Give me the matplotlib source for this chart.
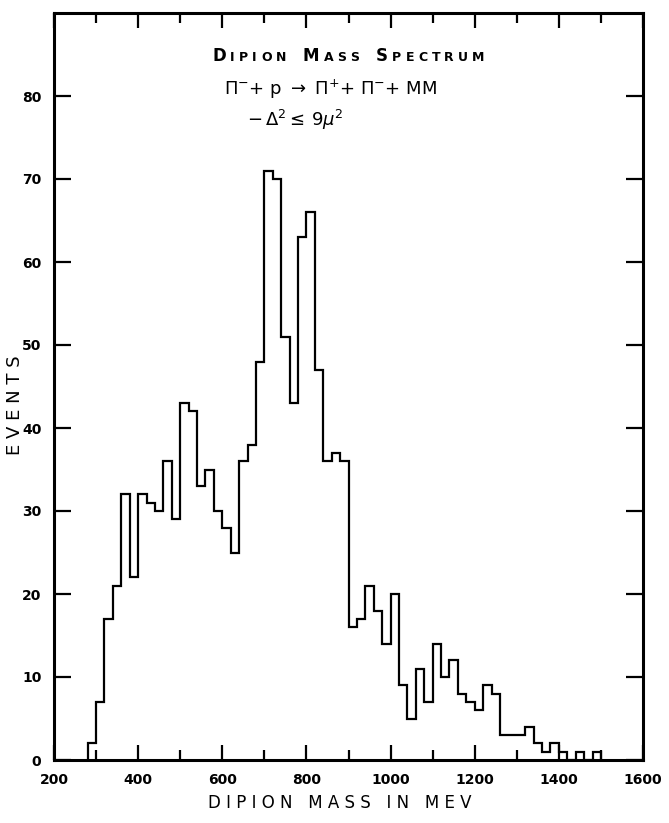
import numpy as np
import matplotlib
matplotlib.use("Agg")
import matplotlib.pyplot as plt
from matplotlib.ticker import MultipleLocator
from matplotlib.offsetbox import TextArea, HPacker, AnnotationBbox

# dipion invariant mass, 20 MeV bins from 280 to 1500 MeV
bin_edges = np.arange(280, 1520, 20)
events = [
    2, 7, 17, 21, 32, 22, 32, 31, 30, 36,
    29, 43, 42, 33, 35, 30, 28, 25, 36, 38,
    48, 71, 70, 51, 43, 63, 66, 47, 36, 37,
    36, 16, 17, 21, 18, 14, 20, 9, 5, 11,
    7, 14, 10, 12, 8, 7, 6, 9, 8, 3,
    3, 3, 4, 2, 1, 2, 1, 0, 1, 0,
    1,
]

x_ticks = [200, 400, 600, 800, 1000, 1200, 1400, 1600]
y_ticks = [0, 10, 20, 30, 40, 50, 60, 70, 80]

plt.rcParams['font.family'] = ['DejaVu Sans']
plt.rcParams['mathtext.fontset'] = 'dejavusans'

W, H = 669, 823
fig = plt.figure(figsize=(W / 100, H / 100), dpi=100)
ax = fig.add_axes([54 / W, 63 / H, 589 / W, 747 / H])

ax.stairs(events, bin_edges, color='black', linewidth=1.6)

ax.set_xlim(200, 1600)
ax.set_ylim(0, 90)
ax.set_xticks(x_ticks)
ax.set_yticks(y_ticks)
ax.xaxis.set_minor_locator(MultipleLocator(100))

for side in ['left', 'right', 'top', 'bottom']:
    ax.spines[side].set_linewidth(2.2)

ax.tick_params(axis='both', which='both', direction='in', top=True, right=True,
               width=1.6, colors='black')
ax.tick_params(axis='x', which='major', length=11, pad=9)
ax.tick_params(axis='x', which='minor', length=7)
ax.tick_params(axis='y', which='major', length=12, pad=9)
for lab in ax.get_xticklabels() + ax.get_yticklabels():
    lab.set_fontsize(10)
    lab.set_fontweight('bold')


def small_caps(words, big=12, small=9, letter_sep=3, word_sep=12):
    boxes = []
    for w in words:
        letters = [TextArea(w[0], textprops=dict(fontsize=big, fontweight='bold'))]
        for ch in w[1:]:
            letters.append(TextArea(ch, textprops=dict(fontsize=small, fontweight='bold')))
        boxes.append(HPacker(children=letters, align='baseline', pad=0, sep=letter_sep))
    return HPacker(children=boxes, align='baseline', pad=0, sep=word_sep)


title = small_caps(['DIPION', 'MASS', 'SPECTRUM'])
ax.add_artist(AnnotationBbox(title, (0.50, 0.942), xycoords='axes fraction',
                             frameon=False, box_alignment=(0.5, 0.5)))

ax.text(0.47, 0.898, r'$\Pi^{-}$+ p $\rightarrow$ $\Pi^{+}$+ $\Pi^{-}$+ MM',
        transform=ax.transAxes, ha='center', va='center', fontsize=13)
ax.text(0.41, 0.857, r'$-\,\Delta^{2} \leq\, 9\mu^{2}$',
        transform=ax.transAxes, ha='center', va='center', fontsize=13)

fig.text(340 / W, 1 - 803 / H, 'D I P I O N   M A S S   I N   M E V',
         ha='center', va='center', fontsize=12)
fig.text(15 / W, 1 - 405 / H, 'E V E N T S', rotation=90,
         ha='center', va='center', fontsize=13)

fig.savefig('out.png', dpi=100, facecolor='white')
